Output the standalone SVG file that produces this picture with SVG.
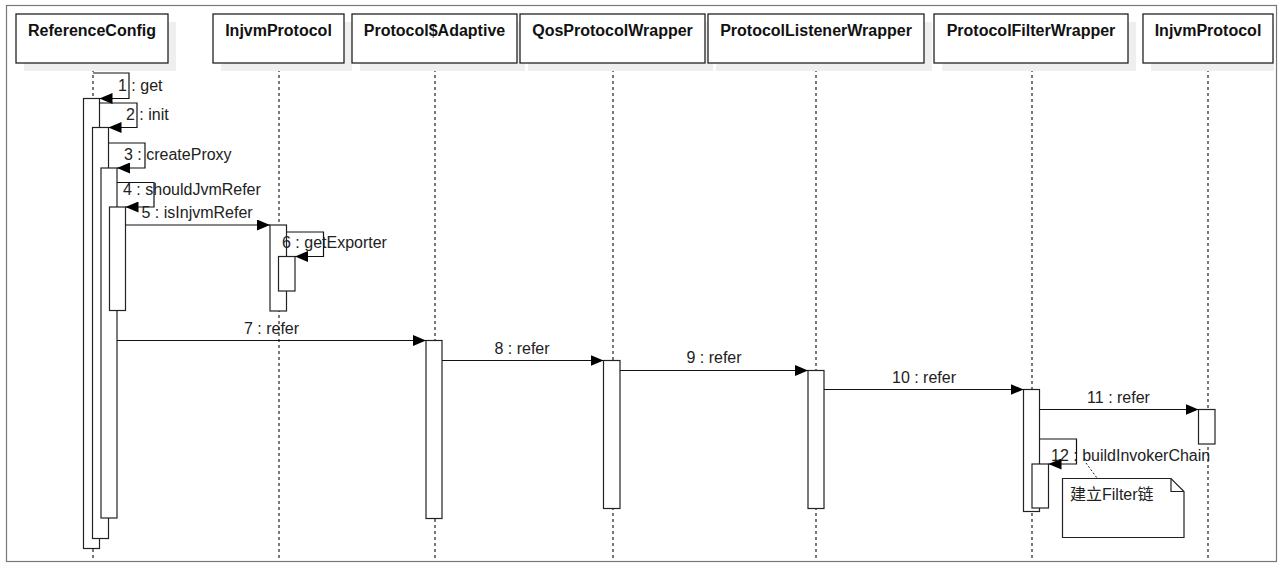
<svg xmlns="http://www.w3.org/2000/svg" width="1280" height="565" viewBox="0 0 1280 565">
<style>
.frame{fill:#fff;stroke:#777;stroke-width:1.2}
.hdr{fill:#fff;stroke:#222;stroke-width:1.3}
.shadow{fill:#efefef;stroke:none}
.ht{font-family:"Liberation Sans",Arial,sans-serif;font-weight:bold;font-size:16px;fill:#111;text-anchor:middle}
.life{stroke:#222;stroke-width:1.2;stroke-dasharray:3 3;fill:none}
.act{fill:#fff;stroke:#222;stroke-width:1.2}
.msg{stroke:#111;stroke-width:1.2;fill:none}
.lbl{font-family:"Liberation Sans",Arial,sans-serif;font-size:16px;fill:#222}
.lblc{font-family:"Liberation Sans",Arial,sans-serif;font-size:16px;fill:#222;text-anchor:middle}
.note{fill:#fff;stroke:#222;stroke-width:1.2}
.nt{font-family:"Liberation Sans","Noto Sans CJK SC",sans-serif;font-size:16px;fill:#222}
</style>
<defs>
<marker id="ah" viewBox="0 0 13 11" refX="13" refY="5.5" markerWidth="13" markerHeight="11" markerUnits="userSpaceOnUse" orient="auto">
<path d="M0,0 L13,5.5 L0,11 Z" fill="#000"/>
</marker>
</defs>
<rect class="frame" x="6.5" y="5.5" width="1270" height="556"/>

<g id="lifelines">
<line class="life" x1="93" y1="63" x2="93" y2="561"/>
<line class="life" x1="279" y1="63" x2="279" y2="561"/>
<line class="life" x1="435" y1="63" x2="435" y2="561"/>
<line class="life" x1="613" y1="63" x2="613" y2="561"/>
<line class="life" x1="816" y1="63" x2="816" y2="561"/>
<line class="life" x1="1032" y1="63" x2="1032" y2="561"/>
<line class="life" x1="1208" y1="63" x2="1208" y2="561"/>
</g>

<g id="n-referenceconfig">
<rect class="shadow" x="24" y="22" width="152" height="49"/>
<rect class="hdr" x="16" y="14" width="152" height="49"/>
<text class="ht" x="92" y="36">ReferenceConfig</text>
</g>
<g id="n-injvmprotocol1">
<rect class="shadow" x="221" y="22" width="131" height="49"/>
<rect class="hdr" x="213" y="14" width="131" height="49"/>
<text class="ht" x="278.5" y="36">InjvmProtocol</text>
</g>
<g id="n-protocoladaptive">
<rect class="shadow" x="360" y="22" width="165" height="49"/>
<rect class="hdr" x="352" y="14" width="165" height="49"/>
<text class="ht" x="434.5" y="36">Protocol$Adaptive</text>
</g>
<g id="n-qosprotocolwrapper">
<rect class="shadow" x="528" y="22" width="185" height="49"/>
<rect class="hdr" x="520" y="14" width="185" height="49"/>
<text class="ht" x="612.5" y="36">QosProtocolWrapper</text>
</g>
<g id="n-protocollistenerwrapper">
<rect class="shadow" x="716" y="22" width="216" height="49"/>
<rect class="hdr" x="708" y="14" width="216" height="49"/>
<text class="ht" x="816" y="36">ProtocolListenerWrapper</text>
</g>
<g id="n-protocolfilterwrapper">
<rect class="shadow" x="942" y="22" width="194" height="49"/>
<rect class="hdr" x="934" y="14" width="194" height="49"/>
<text class="ht" x="1031" y="36">ProtocolFilterWrapper</text>
</g>
<g id="n-injvmprotocol2">
<rect class="shadow" x="1151" y="22" width="123" height="49"/>
<rect class="hdr" x="1143" y="14" width="130" height="49"/>
<text class="ht" x="1208" y="36">InjvmProtocol</text>
</g>

<g id="activations">
<rect class="act" x="83.5" y="98.5" width="16" height="450"/>
<rect class="act" x="92.5" y="127.5" width="16" height="411"/>
<rect class="act" x="101" y="168" width="16" height="350"/>
<rect class="act" x="109.5" y="207" width="16" height="103.5"/>
<rect class="act" x="270" y="225" width="16.5" height="86"/>
<rect class="act" x="278.5" y="256.5" width="16.5" height="34.5"/>
<rect class="act" x="426" y="340.5" width="16" height="178"/>
<rect class="act" x="603.5" y="360.5" width="16.5" height="148"/>
<rect class="act" x="808" y="370.5" width="16" height="138"/>
<rect class="act" x="1023.5" y="389.5" width="16" height="122"/>
<rect class="act" x="1198.5" y="409.5" width="16.5" height="34.5"/>
<rect class="act" x="1032" y="464" width="16.5" height="44"/>
</g>

<g id="connectors">
<polyline class="msg" points="93,73 129,73 129,98.5 99.5,98.5" marker-end="url(#ah)"/>
<polyline class="msg" points="99.5,103 137,103 137,127.5 108.5,127.5" marker-end="url(#ah)"/>
<polyline class="msg" points="108.5,143 145,143 145,168 117,168" marker-end="url(#ah)"/>
<polyline class="msg" points="117,182.5 154,182.5 154,207 125.5,207" marker-end="url(#ah)"/>
<line class="msg" x1="125.5" y1="225" x2="270" y2="225" marker-end="url(#ah)"/>
<polyline class="msg" points="286.5,232 323.5,232 323.5,256.5 295,256.5" marker-end="url(#ah)"/>
<line class="msg" x1="117" y1="340.5" x2="426" y2="340.5" marker-end="url(#ah)"/>
<line class="msg" x1="442" y1="360.5" x2="603.5" y2="360.5" marker-end="url(#ah)"/>
<line class="msg" x1="620" y1="370.5" x2="808" y2="370.5" marker-end="url(#ah)"/>
<line class="msg" x1="824" y1="389.5" x2="1023.5" y2="389.5" marker-end="url(#ah)"/>
<line class="msg" x1="1039.5" y1="409.5" x2="1198.5" y2="409.5" marker-end="url(#ah)"/>
<polyline class="msg" points="1039.5,439 1076.5,439 1076.5,464 1048.5,464" marker-end="url(#ah)"/>
<line x1="1086" y1="463" x2="1097" y2="478" stroke="#222" stroke-width="1" stroke-dasharray="2 2"/>
</g>

<g id="labels">
<text class="lbl" x="118" y="90.5">1 : get</text>
<text class="lbl" x="126" y="119.5">2 : init</text>
<text class="lbl" x="124" y="159.5">3 : createProxy</text>
<text class="lbl" x="123" y="195">4 : shouldJvmRefer</text>
<text class="lbl" x="141.5" y="217.5">5 : isInjvmRefer</text>
<text class="lbl" x="282" y="247.5">6 : getExporter</text>
<text class="lblc" x="271.5" y="333.5">7 : refer</text>
<text class="lblc" x="522" y="353.5">8 : refer</text>
<text class="lblc" x="714" y="363">9 : refer</text>
<text class="lblc" x="924" y="383">10 : refer</text>
<text class="lblc" x="1118.5" y="402.5">11 : refer</text>
<text class="lbl" x="1051" y="461">12 : buildInvokerChain</text>
</g>

<g id="n-note">
<path class="note" d="M1062.5,478.5 L1171,478.5 L1184,491.5 L1184,537.5 L1062.5,537.5 Z"/>
<path d="M1171,478.5 L1171,491.5 L1184,491.5" fill="none" stroke="#222" stroke-width="1.2"/>
<text class="nt" x="1070" y="500">建立Filter链</text>
</g>
</svg>
